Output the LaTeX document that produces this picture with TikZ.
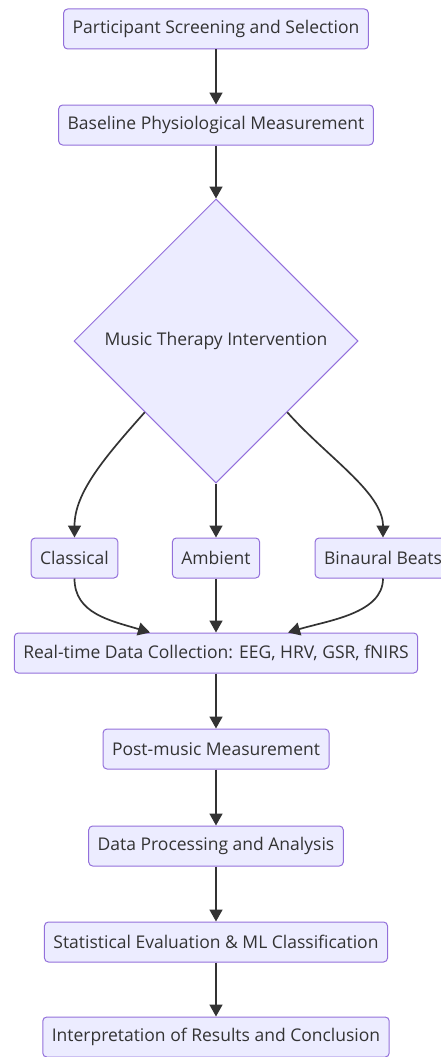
\documentclass[tikz,border=0pt]{standalone}
\usepackage{fontspec}
\setmainfont{Open Sans}
\usetikzlibrary{shapes.geometric, arrows.meta, positioning}
\definecolor{boxfill}{HTML}{ECECFF}
\definecolor{boxline}{HTML}{9370DB}
\definecolor{ink}{HTML}{333333}
\tikzstyle{block}=[draw=boxline,fill=boxfill,rectangle,rounded corners=4pt,minimum height=40pt,inner xsep=9pt,text=ink,line width=1pt]
\tikzstyle{decision}=[draw=boxline,fill=boxfill,diamond,aspect=1,inner sep=0pt,minimum width=284pt,minimum height=284pt,text=ink,line width=1pt]
\tikzstyle{every node}=[font=\fontsize{17.5}{21}\selectfont]

\begin{document}
\begin{tikzpicture}[>={Triangle[length=12pt,width=13pt]}, node distance=96pt]
    \useasboundingbox (0,0) rectangle (440pt,-1057pt);
    \node[block] (screen) at (216pt,-29pt) {Participant Screening and Selection};
    \node[block, below of=screen] (baseline) {Baseline Physiological Measurement};
    \node[decision, below of=baseline, node distance=216pt] (therapy) {Music Therapy Intervention};
    \node[block, below of=therapy, node distance=217pt] (ambient) {Ambient};
    \node[block, left of=ambient, node distance=141.5pt] (classical) {Classical};
    \node[block, right of=ambient, node distance=167pt] (binaural) {Binaural Beats};
    \node[block, below of=ambient, node distance=95pt] (collect) {Real-time Data Collection: EEG, HRV, GSR, fNIRS};
    \node[block, below of=collect] (post) {Post-music Measurement};
    \node[block, below of=post, node distance=97pt] (process) {Data Processing and Analysis};
    \node[block, below of=process] (stats) {Statistical Evaluation \& ML Classification};
    \node[block, below of=stats, node distance=95pt] (interp) {Interpretation of Results and Conclusion};
    \begin{scope}[draw=ink, line width=1.7pt]
    \draw[->] (screen) -- (baseline);
    \draw[->] (baseline) -- (therapy);
    \draw[->] (therapy.south west) .. controls +(-40pt,-45pt) and +(0pt,45pt) .. (classical.north);
    \draw[->] (therapy) -- (ambient);
    \draw[->] (therapy.south east) .. controls +(40pt,-45pt) and +(0pt,45pt) .. (binaural.north);
    \draw[->] (classical.south) .. controls +(0pt,-35pt) and +(-40pt,12pt) .. ([xshift=-66pt]collect.north);
    \draw[->] (ambient) -- (collect);
    \draw[->] (binaural.south) .. controls +(0pt,-35pt) and +(40pt,12pt) .. ([xshift=72pt]collect.north);
    \draw[->] (collect) -- (post);
    \draw[->] (post) -- (process);
    \draw[->] (process) -- (stats);
    \draw[->] (stats) -- (interp);
    \end{scope}
\end{tikzpicture}
\end{document}
